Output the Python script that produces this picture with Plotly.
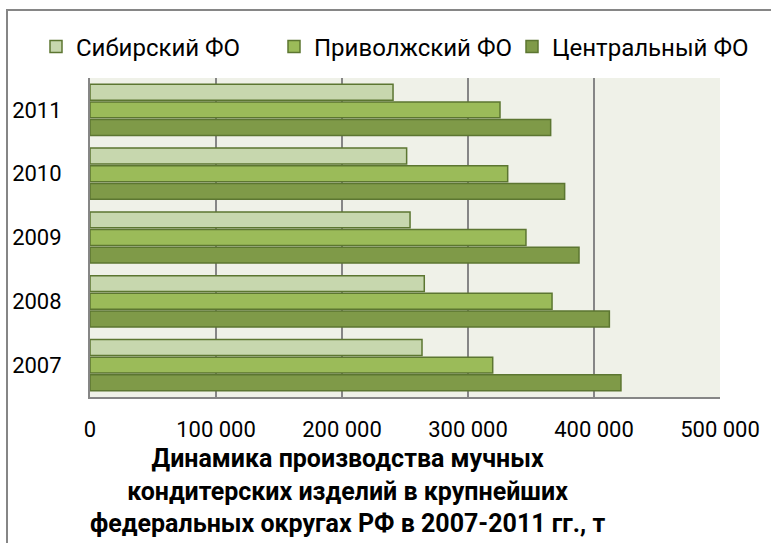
import plotly.graph_objects as go

years = ["2007", "2008", "2009", "2010", "2011"]
siberian = [263500, 265300, 254000, 251300, 240500]
volga = [319600, 366700, 346000, 331500, 325400]
central = [421400, 412200, 388100, 376700, 365600]
series_names = ["Сибирский ФО", "Приволжский ФО", "Центральный ФО"]
x_tickvals = [0, 100000, 200000, 300000, 400000, 500000]
x_ticktext = ["0", "100 000", "200 000", "300 000", "400 000", "500 000"]
title_lines = [
    "Динамика производства мучных",
    "кондитерских изделий в крупнейших",
    "федеральных округах РФ в 2007-2011 гг., т",
]

FONT = "Roboto"
fills = ["#C7D7AE", "#9BBB59", "#7F9A48"]
edge = "#5C7631"

fig = go.Figure()
# add bottom-to-top within each group: Central first (lowest), Siberian last (top)
for name, vals, col in [
    (series_names[2], central, fills[2]),
    (series_names[1], volga, fills[1]),
    (series_names[0], siberian, fills[0]),
]:
    fig.add_trace(go.Bar(
        y=years, x=vals, name=name, orientation="h",
        marker=dict(color=col, line=dict(color=edge, width=1.5)),
    ))

W, H = 771, 543
L, R, T, B = 90, 51, 78, 146
pw, ph = W - L - R, H - T - B


def px_x(px):
    return (px - L) / pw


def px_y(py):
    return (H - B - py) / ph


title_text = "<b>" + "<br>".join(title_lines) + "</b>"

fig.update_layout(
    width=W, height=H,
    margin=dict(l=L, r=R, t=T, b=B, pad=0),
    paper_bgcolor="#FFFFFF",
    plot_bgcolor="#EFF1E8",
    barmode="group", bargap=0.17, bargroupgap=0.1,
    font=dict(family=FONT, size=22, color="#000000"),
    showlegend=True,
    legend=dict(
        orientation="h", traceorder="reversed",
        x=px_x(36), xanchor="left", y=px_y(47), yanchor="middle",
        font=dict(family=FONT, size=24, color="#000000"),
        entrywidth=193, entrywidthmode="pixels",
        bgcolor="rgba(0,0,0,0)", itemclick=False,
    ),
    xaxis=dict(
        range=[0, 500000], tickvals=x_tickvals, ticktext=x_ticktext,
        showgrid=True, gridcolor="#868686", gridwidth=2,
        showline=True, linecolor="#868686", linewidth=2,
        zeroline=False, ticks="", ticklabelstandoff=12,
        tickfont=dict(family=FONT, size=22),
    ),
    yaxis=dict(
        type="category", categoryorder="array", categoryarray=years,
        showgrid=False, showline=True, linecolor="#868686", linewidth=2,
        ticks="", ticklabelstandoff=22,
        tickfont=dict(family=FONT, size=22),
    ),
    annotations=[dict(
        text=title_text, x=px_x(347), y=px_y(491),
        xref="paper", yref="paper", xanchor="center", yanchor="middle",
        align="center", showarrow=False,
        font=dict(family=FONT, size=25, color="#000000"),
    )],
    shapes=[dict(
        type="rect", xref="paper", yref="paper",
        x0=px_x(7), x1=px_x(800), y0=px_y(600), y1=px_y(10),
        line=dict(color="#868686", width=2), fillcolor="rgba(0,0,0,0)",
        layer="below",
    )],
)

fig.write_html(
    "out.html",
    config={"displayModeBar": False},
    post_script="document.body.style.margin='0';document.body.style.overflow='hidden';",
)
